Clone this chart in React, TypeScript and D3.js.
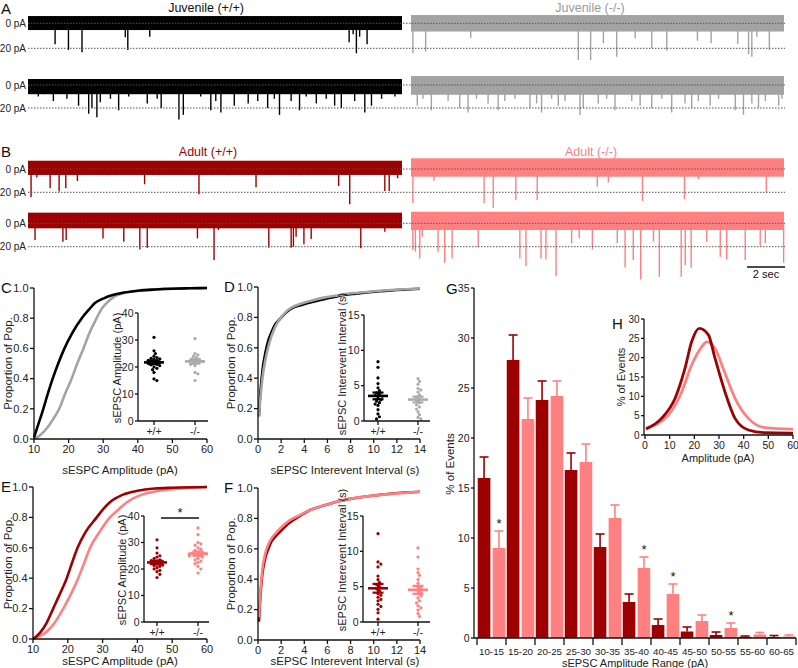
import React from 'react';
import * as d3 from 'd3';

const FONT = "'Liberation Sans', Arial, Helvetica, sans-serif";
const C_BLACK = '#000000';
const C_GRAY = '#a3a3a3';
const C_DARK = '#9c0000';
const C_PINK = '#ff8080';

// ---------- Traces (A, B) ----------
const TRACE_SECONDS = 19.6;
// events: [time (s), amplitude (pA)]
const juvWtEvents1: [number, number][] = [[1.42,16.8],[2.12,21.4],[2.83,23.2],[5.1,11.2],[5.23,21.4],[6.38,10.7],[16.83,15.2],[17.04,8.8],[17.21,24],[17.38,10.7],[17.77,16.8]];
const juvKoEvents1: [number, number][] = [[0.1,24],[0.77,22.7],[3.14,11.5],[8.79,29.4],[9.44,29.4],[10.11,16],[10.81,26.7],[11.78,12],[12.65,20],[13.44,21.9],[15.05,13.9],[15.77,16],[17.17,16.6],[17.74,24.8],[17.91,26.7],[18.17,10.7],[18.83,21.4]];
const juvWtEvents2: [number, number][] = [[0.54,10],[0.81,8],[1.33,14],[2.04,12],[2.65,18],[3.18,25],[3.35,20],[3.61,28],[3.79,15],[4.32,12],[4.75,22],[5.28,10],[6.25,16],[6.77,12],[6.98,20],[7.91,30],[8.14,26],[9.05,10],[9.58,22],[9.84,14],[10.11,24],[10.81,18],[11.54,16],[12.04,14],[12.56,20],[12.91,12],[13.18,26],[13.79,14],[14.23,22],[14.58,10],[15.11,16],[15.63,12],[16.07,18],[16.42,20],[17.12,14],[17.65,24],[18.0,18],[18.53,12],[19.23,10]];
const juvKoEvents2: [number, number][] = [[0.33,18],[0.63,12],[1.07,22],[1.95,14],[2.56,20],[3.0,24],[3.44,12],[4.05,16],[4.58,22],[4.93,14],[5.46,12],[6.25,20],[6.6,16],[6.86,24],[7.39,12],[7.74,18],[8.09,14],[8.88,26],[9.05,20],[9.84,16],[10.28,12],[10.72,22],[11.6,14],[12.04,18],[12.65,20],[13.18,12],[13.7,24],[14.4,16],[14.75,20],[15.1,14],[15.72,18],[16.16,12],[17.04,22],[17.47,26],[17.91,16],[18.26,20],[18.62,14],[19.32,18],[19.49,12]];
const adWtEvents1: [number, number][] = [[0.16,24.3],[0.46,7.4],[1.16,16.6],[1.63,19.4],[1.98,16.6],[2.59,10.3],[6.11,13.1],[8.96,21.7],[11.95,15.7],[16.28,14.6],[16.86,30.3],[18.7,18.9],[18.93,18.9],[19.37,8]];
const adKoEvents1: [number, number][] = [[0.1,29.1],[1.21,10],[3.84,29.1],[4.32,33.4],[5.51,26.6],[6.63,26.6],[9.79,15.1],[10.37,11.4],[12.16,27.4],[14.37,26],[15.1,8.9],[18.67,20]];
const adWtEvents2: [number, number][] = [[0.37,14.3],[1.83,15.7],[2.0,14.3],[3.93,12.9],[5.02,15.7],[5.86,22.3],[6.25,20.9],[8.88,12.9],[9.75,31.4],[9.98,5.7],[12.62,20.9],[13.79,20.9],[13.91,20],[14.05,11.5],[14.46,18],[14.84,13.5],[17.44,21.4],[18.7,7.2]];
const adKoEvents2: [number, number][] = [[0.1,22.9],[0.23,24.3],[0.46,30],[0.59,11.5],[1.42,24.3],[1.77,33.7],[2.16,30],[3.53,20.6],[5.72,30],[6.04,36.6],[6.83,30],[7.09,30.9],[7.62,45.2],[8.44,17.1],[8.84,12.9],[9.53,22.3],[10.84,17.1],[11.25,37.7],[11.68,31.4],[12.07,48],[12.74,15.7],[13.05,45.7],[14.2,45.7],[14.41,35.7],[14.72,38],[15.54,15.7],[16.25,28.6],[16.59,30.9],[17.56,31.4],[18.35,19.5],[18.62,17.1],[19.58,33.7]];

// ---------- Cumulative distributions (C-F) ----------
const cAmpWtX = [10, 11, 12.7, 14, 15.4, 17, 18.8, 21, 23.8, 26, 27.6, 30, 33, 36, 40, 45, 50, 55, 60];
const cAmpWtY = [0.01, 0.08, 0.2, 0.3, 0.4, 0.5, 0.6, 0.7, 0.8, 0.86, 0.9, 0.93, 0.955, 0.97, 0.982, 0.99, 0.995, 0.998, 1.0];
const cAmpKoX = [10, 12, 14, 15.5, 17.3, 19, 20.9, 22.5, 24.3, 26, 28.1, 29.5, 31, 33, 35, 38, 42, 50, 60];
const cAmpKoY = [0.0, 0.03, 0.08, 0.13, 0.2, 0.3, 0.4, 0.5, 0.6, 0.7, 0.8, 0.86, 0.9, 0.94, 0.96, 0.975, 0.985, 0.996, 1.0];
const dIntX = [0.08, 0.15, 0.26, 0.4, 0.66, 0.9, 1.18, 1.5, 1.9, 2.4, 2.9, 3.7, 4.6, 5.7, 6.9, 8.3, 9.8, 11.5, 14];
const dIntWtY = [0.15, 0.25, 0.355, 0.46, 0.575, 0.65, 0.705, 0.755, 0.79, 0.83, 0.86, 0.88, 0.90, 0.92, 0.94, 0.955, 0.967, 0.977, 0.988];
const dIntKoY = [0.15, 0.22, 0.31, 0.41, 0.53, 0.61, 0.68, 0.74, 0.79, 0.835, 0.865, 0.89, 0.91, 0.93, 0.945, 0.96, 0.97, 0.98, 0.99];
const eAmpWtX = [10, 12, 14, 15.8, 17.8, 19.7, 21.2, 22.8, 25, 28.3, 30, 32.1, 35.9, 40, 45, 50, 60];
const eAmpWtY = [0.0, 0.04, 0.11, 0.2, 0.3, 0.4, 0.5, 0.6, 0.7, 0.8, 0.85, 0.9, 0.95, 0.975, 0.99, 0.995, 1.0];
const eAmpKoX = [10, 12, 14, 16, 18.7, 21, 23, 24.7, 26.4, 29, 32.1, 34.5, 37, 41.3, 45, 50, 55, 60];
const eAmpKoY = [0.0, 0.02, 0.05, 0.1, 0.2, 0.3, 0.4, 0.5, 0.6, 0.7, 0.8, 0.85, 0.9, 0.95, 0.97, 0.985, 0.995, 1.0];
const fIntX = [0.08, 0.2, 0.37, 0.6, 0.9, 1.18, 1.5, 2.0, 2.7, 3.7, 4.5, 5.5, 6.8, 8.1, 10, 12.7, 14];
const fIntWtY = [0.12, 0.28, 0.43, 0.53, 0.6, 0.65, 0.68, 0.72, 0.77, 0.82, 0.855, 0.88, 0.91, 0.93, 0.95, 0.97, 0.975];
const fIntKoY = [0.15, 0.31, 0.46, 0.56, 0.63, 0.67, 0.70, 0.74, 0.785, 0.825, 0.855, 0.88, 0.91, 0.93, 0.95, 0.968, 0.975];

// ---------- Per-cell values (insets) ----------
const groups = ['+/+', '-/-'];
const juvWtAmp = [31, 26, 25, 24, 23.5, 23.2, 23, 22.8, 22.5, 22.3, 22, 21.8, 21.5, 21.3, 21, 20.8, 20.5, 20, 19.5, 19, 18, 15.6, 15];
const juvKoAmp = [30.5, 25, 24.5, 24, 23.5, 23, 22.8, 22.5, 22.2, 22, 21.8, 21.5, 21, 20.5, 18, 17.5, 15];
const juvWtInt = [8.4, 7.6, 6.1, 5.3, 4.7, 4.3, 4.0, 3.8, 3.6, 3.5, 3.2, 3.0, 2.8, 2.6, 2.4, 2.2, 1.6, 1.0, 0.6, 0.3];
const juvKoInt = [6.0, 5.6, 5.2, 4.6, 4.4, 4.1, 3.7, 3.4, 3.1, 2.9, 2.6, 2.3, 2.0, 1.7, 1.3, 0.9, 0.5, 0.3];
const adWtAmp = [31, 28, 26, 25, 24.5, 24, 23.5, 23.2, 23, 22.8, 22.5, 22.3, 22, 21.8, 21.5, 21.2, 21, 20.5, 20, 19.5, 19, 18, 16.8];
const adKoAmp = [35.5, 33, 30, 29.5, 29, 28, 27.5, 27, 26.5, 26.2, 26, 25.8, 25.5, 25.2, 25, 24.5, 24, 23.5, 23, 22.5, 22, 21, 20, 18.5];
const adWtInt = [12.5, 8.5, 8.2, 7.8, 6.5, 6.0, 5.6, 5.3, 5.0, 4.7, 4.4, 4.0, 3.8, 3.5, 3.2, 3.0, 2.5, 2.2, 1.8, 1.3, 0.4];
const adKoInt = [10.5, 9.2, 7.5, 7.0, 6.6, 6.0, 5.5, 5.0, 4.8, 4.5, 4.2, 4.0, 3.7, 3.4, 3.0, 2.7, 2.3, 2.0, 1.7, 1.2, 0.8];

// ---------- Amplitude histogram (G) ----------
const rangeCats = ['10-15', '15-20', '20-25', '25-30', '30-35', '35-40', '40-45', '45-50', '50-55', '55-60', '60-65'];
const adWtPct = [16.0, 27.8, 23.8, 16.8, 9.1, 3.6, 1.3, 0.65, 0.3, 0.12, 0.1];
const adWtErr = [2.1, 2.5, 1.9, 1.7, 1.3, 0.8, 0.6, 0.45, 0.3, 0.08, 0.15];
const adKoPct = [9.0, 21.9, 24.2, 17.6, 12.0, 7.0, 4.4, 1.7, 1.0, 0.35, 0.15];
const adKoErr = [1.7, 2.1, 1.5, 1.8, 1.3, 1.1, 1.0, 0.6, 0.5, 0.2, 0.15];
const sigCats = ['10-15', '35-40', '40-45', '50-55'];

// ---------- Gaussian fits (H) ----------
const hWtX = [0.4, 6.7, 12.2, 16.2, 18.9, 22, 25.7, 28.4, 32.4, 36.5, 41.9, 48.6, 60];
const hWtY = [1.55, 4.3, 9.5, 17.2, 24.1, 27.6, 25.9, 19.8, 11.2, 4.3, 1.3, 0.6, 0.5];
const hKoX = [0.4, 9.5, 14.9, 18.9, 23, 25, 28.4, 31.7, 36.5, 41.9, 48.6, 60];
const hKoY = [1.8, 5.2, 11.2, 18.1, 22.8, 24.1, 22.4, 17.2, 9.5, 4.3, 1.9, 1.5];

// ================= components =================
const AX = '#111';

function YAxis({ scale, x, ticks, fmt, fs = 11, len = 4 }: any) {
  const [r0, r1] = scale.range();
  return (
    <g>
      <line x1={x} x2={x} y1={r0} y2={r1} stroke={AX} strokeWidth={1.3} />
      {ticks.map((t: number) => (
        <g key={t}>
          <line x1={x - len} x2={x} y1={scale(t)} y2={scale(t)} stroke={AX} strokeWidth={1.3} />
          <text x={x - len - 1.5} y={scale(t)} dy="0.35em" textAnchor="end" fontSize={fs} fill="#222">{fmt(t)}</text>
        </g>
      ))}
    </g>
  );
}

function XAxis({ scale, y, ticks, fmt, fs = 11, len = 4, x0, x1 }: any) {
  const [r0, r1] = scale.range();
  return (
    <g>
      <line x1={x0 ?? r0} x2={x1 ?? r1} y1={y} y2={y} stroke={AX} strokeWidth={1.3} />
      {ticks.map((t: any) => (
        <g key={String(t)}>
          <line x1={scale(t)} x2={scale(t)} y1={y} y2={y + len} stroke={AX} strokeWidth={1.3} />
          <text x={scale(t)} y={y + len + 2} dy="0.75em" textAnchor="middle" fontSize={fs} fill="#222">{fmt(t)}</text>
        </g>
      ))}
    </g>
  );
}

function Trace({ x0, x1, y0, y20, color, events, up, down }: any) {
  const xs = d3.scaleLinear().domain([0, TRACE_SECONDS]).range([x0, x1]);
  const ys = d3.scaleLinear().domain([0, 20]).range([y0, y20]);
  return (
    <g>
      <rect x={x0} width={x1 - x0} y={ys(-up)} height={ys(down) - ys(-up)} fill={color} />
      {events.map(([t, a]: [number, number], i: number) => (
        <line key={i} x1={xs(t)} x2={xs(t)} y1={y0} y2={ys(a)} stroke={color} strokeWidth={1.4} />
      ))}
    </g>
  );
}

function TraceRow({ y0, y20, left, right }: any) {
  return (
    <g>
      <Trace x0={28} x1={402} y0={y0} y20={y20} {...left} />
      <Trace x0={411} x1={784} y0={y0} y20={y20} {...right} />
      <line x1={28} x2={785} y1={y0} y2={y0} stroke="#555" strokeWidth={1} strokeDasharray="1.5,1.5" />
      <line x1={28} x2={785} y1={y20} y2={y20} stroke="#555" strokeWidth={1} strokeDasharray="1.5,1.5" />
      <text x={26} y={y0} dy="0.35em" textAnchor="end" fontSize={10} fill="#222">0 pA</text>
      <text x={26} y={y20} dy="0.35em" textAnchor="end" fontSize={10} fill="#222">20 pA</text>
    </g>
  );
}

function CdfPanel({ xDomain, xRange, yRange, xTicks, xTitle, xTitleX, xTitleY, series, yTitleX, label, labelX }: any) {
  const xs = d3.scaleLinear().domain(xDomain).range(xRange);
  const ys = d3.scaleLinear().domain([0, 1]).range(yRange);
  const line = d3.line<[number, number]>().x(d => xs(d[0])).y(d => ys(d[1])).curve(d3.curveMonotoneX);
  return (
    <g>
      {series.map((s: any, i: number) => (
        <path key={i} d={line(s.x.map((v: number, j: number) => [v, s.y[j]]) as any) || ''} fill="none" stroke={s.color} strokeWidth={2.6} />
      ))}
      <YAxis scale={ys} x={xRange[0]} ticks={[0, 0.2, 0.4, 0.6, 0.8, 1.0]} fmt={d3.format('.1f')} />
      <XAxis scale={xs} y={yRange[0]} ticks={xTicks} fmt={(t: number) => String(t)} />
      <text x={xTitleX} y={xTitleY} textAnchor="middle" fontSize={11.5} fill="#222">{xTitle}</text>
      <text transform={`translate(${yTitleX},${(yRange[0] + yRange[1]) / 2}) rotate(-90)`} textAnchor="middle" fontSize={11.5} fill="#222">Proportion of Pop.</text>
      <text x={labelX} y={yRange[1] + 5} fontSize={15} fill="#111">{label}</text>
    </g>
  );
}

function swarm(values: number[], ys: (v: number) => number, cx: number, r: number) {
  const pts = values.map(v => ({ v, y: ys(v), x: cx })).sort((a, b) => a.y - b.y);
  const placed: { x: number; y: number }[] = [];
  const minD = 2 * r * 0.95;
  const step = r * 0.9;
  for (const p of pts) {
    for (let k = 0; k < 40; k++) {
      const off = k === 0 ? 0 : (k % 2 === 1 ? 1 : -1) * Math.ceil(k / 2) * step;
      const x = cx + off;
      if (placed.every(q => (q.x - x) ** 2 + (q.y - p.y) ** 2 >= minD * minD)) {
        p.x = x;
        break;
      }
    }
    placed.push({ x: p.x, y: p.y });
  }
  return pts;
}

function Inset({ yAxisX, xEnd, yRange, yDomain, yTicks, cats, data, colors, yTitle, yTitleX, yTitleY, sig }: any) {
  const ys = d3.scaleLinear().domain(yDomain).range(yRange);
  const xs = d3.scalePoint<string>().domain(groups).range(cats);
  return (
    <g>
      {data.map((vals: number[], gi: number) => {
        const cx = xs(groups[gi]) as number;
        const pts = swarm(vals, ys, cx, 1.6);
        const mean = d3.mean(vals) as number;
        const sem = (d3.deviation(vals) as number) / Math.sqrt(vals.length);
        return (
          <g key={gi}>
            {pts.map((p, i) => <circle key={i} cx={p.x} cy={p.y} r={1.6} fill={colors[gi]} />)}
            <line x1={cx - 10} x2={cx + 10} y1={ys(mean)} y2={ys(mean)} stroke={colors[gi]} strokeWidth={2.6} />
            <line x1={cx} x2={cx} y1={ys(mean - sem)} y2={ys(mean + sem)} stroke={colors[gi]} strokeWidth={2.2} />
            <line x1={cx - 5.5} x2={cx + 5.5} y1={ys(mean + sem)} y2={ys(mean + sem)} stroke={colors[gi]} strokeWidth={2.2} />
            <line x1={cx - 5.5} x2={cx + 5.5} y1={ys(mean - sem)} y2={ys(mean - sem)} stroke={colors[gi]} strokeWidth={2.2} />
          </g>
        );
      })}
      <YAxis scale={ys} x={yAxisX} ticks={yTicks} fmt={(t: number) => String(t)} fs={10.5} len={3} />
      <XAxis scale={xs} y={yRange[0]} ticks={groups} fmt={(t: string) => t} fs={10.5} x0={yAxisX} x1={xEnd} />
      <text transform={`translate(${yTitleX},${yTitleY}) rotate(-90)`} textAnchor="middle" fontSize={11} fill="#222">{yTitle}</text>
      {sig && (
        <g>
          <line x1={sig[0]} x2={sig[1]} y1={sig[2]} y2={sig[2]} stroke="#111" strokeWidth={1.3} />
          <text x={(sig[0] + sig[1]) / 2} y={sig[2] - 1} textAnchor="middle" fontSize={13} fill="#111">*</text>
        </g>
      )}
    </g>
  );
}

function PanelG() {
  const ys = d3.scaleLinear().domain([0, 35]).range([638, 288]);
  const xb = d3.scaleBand<string>().domain(rangeCats).range([477, 796]).paddingInner(0).paddingOuter(0);
  const inner = d3.scaleBand<string>().domain(['wt', 'ko']).range([0, xb.bandwidth()]).paddingInner(0.15).paddingOuter(0.05);
  const bw = inner.bandwidth();
  const series = [
    { key: 'wt', vals: adWtPct, errs: adWtErr, color: C_DARK },
    { key: 'ko', vals: adKoPct, errs: adKoErr, color: C_PINK },
  ];
  const boundaries = rangeCats.map(c => xb(c) as number).concat([796]);
  return (
    <g>
      {series.map(s => rangeCats.map((c, i) => {
        const x = (xb(c) as number) + (inner(s.key) as number);
        const cx = x + bw / 2;
        const top = ys(s.vals[i] + s.errs[i]);
        return (
          <g key={s.key + c}>
            <line x1={cx} x2={cx} y1={ys(s.vals[i])} y2={top} stroke={s.color} strokeWidth={1.6} />
            <line x1={cx - 4.5} x2={cx + 4.5} y1={top} y2={top} stroke={s.color} strokeWidth={1.6} />
            <rect x={x} y={ys(s.vals[i])} width={bw} height={638 - ys(s.vals[i])} fill={s.color} />
            {s.key === 'ko' && sigCats.includes(c) && (
              <text x={cx} y={top - 3} textAnchor="middle" fontSize={13} fill="#111">*</text>
            )}
          </g>
        );
      }))}
      <YAxis scale={ys} x={474} ticks={[0, 5, 10, 15, 20, 25, 30, 35]} fmt={(t: number) => String(t)} fs={10.5} len={3} />
      <line x1={474} x2={796} y1={638} y2={638} stroke={AX} strokeWidth={1.3} />
      {boundaries.map((b, i) => <line key={i} x1={b} x2={b} y1={638} y2={645} stroke={AX} strokeWidth={1.3} />)}
      {rangeCats.map(c => (
        <text key={c} x={(xb(c) as number) + xb.bandwidth() / 2} y={654.5} textAnchor="middle" fontSize={9.8} fill="#222">{c}</text>
      ))}
      <text x={635} y={666.5} textAnchor="middle" fontSize={11} fill="#222">sEPSC Amplitude Range (pA)</text>
      <text transform="translate(454,464) rotate(-90)" textAnchor="middle" fontSize={11.5} fill="#222">% of Events</text>
      <text x={446} y={294} fontSize={15} fill="#111">G</text>
    </g>
  );
}

function PanelH() {
  const xs = d3.scaleLinear().domain([0, 60]).range([645, 793]);
  const ys = d3.scaleLinear().domain([0, 30]).range([435, 319]);
  const line = d3.line<[number, number]>().x(d => xs(d[0])).y(d => ys(d[1])).curve(d3.curveMonotoneX);
  const wt = hWtX.map((v, i) => [v, hWtY[i]] as [number, number]);
  const ko = hKoX.map((v, i) => [v, hKoY[i]] as [number, number]);
  return (
    <g>
      <path d={line(ko) || ''} fill="none" stroke={C_PINK} strokeWidth={2.8} />
      <path d={line(wt) || ''} fill="none" stroke={C_DARK} strokeWidth={2.8} />
      <YAxis scale={ys} x={644} ticks={[0, 5, 10, 15, 20, 25, 30]} fmt={(t: number) => String(t)} fs={10} len={3} />
      <XAxis scale={xs} y={435} ticks={[0, 10, 20, 30, 40, 50, 60]} fmt={(t: number) => String(t)} fs={10.5} x0={644} />
      <text x={718} y={462} textAnchor="middle" fontSize={11} fill="#222">Amplitude (pA)</text>
      <text transform="translate(625,377) rotate(-90)" textAnchor="middle" fontSize={11} fill="#222">% of Events</text>
      <text x={612} y={329} fontSize={15} fill="#111">H</text>
    </g>
  );
}

export default function App() {
  return (
    <svg width={798} height={668} viewBox="0 0 798 668" style={{ position: 'absolute', left: 0, top: 0, background: '#fff' }} fontFamily={FONT}>
      <rect width={798} height={668} fill="#fff" />
      {/* A */}
      <text x={1} y={14} fontSize={15} fill="#111">A</text>
      <text x={206} y={12} textAnchor="middle" fontSize={12.5} fill="#111">Juvenile (+/+)</text>
      <text x={590} y={12} textAnchor="middle" fontSize={12.5} fill="#999">Juvenile (-/-)</text>
      <TraceRow y0={23.3} y20={48.3}
        left={{ color: C_BLACK, events: juvWtEvents1, up: 5.8, down: 5.4 }}
        right={{ color: C_GRAY, events: juvKoEvents1, up: 6.6, down: 6.6 }} />
      <TraceRow y0={85} y20={108}
        left={{ color: C_BLACK, events: juvWtEvents2, up: 5.2, down: 8 }}
        right={{ color: C_GRAY, events: juvKoEvents2, up: 7.8, down: 8.5 }} />
      {/* B */}
      <text x={1} y={157} fontSize={15} fill="#111">B</text>
      <text x={208} y={156} textAnchor="middle" fontSize={12.5} fill={C_DARK}>Adult (+/+)</text>
      <text x={591} y={156} textAnchor="middle" fontSize={12.5} fill={C_PINK}>Adult (-/-)</text>
      <TraceRow y0={169} y20={192.3}
        left={{ color: C_DARK, events: adWtEvents1, up: 7.1, down: 5.1 }}
        right={{ color: C_PINK, events: adKoEvents1, up: 9.2, down: 6.6 }} />
      <TraceRow y0={223.3} y20={246.7}
        left={{ color: C_DARK, events: adWtEvents2, up: 9.1, down: 4.3 }}
        right={{ color: C_PINK, events: adKoEvents2, up: 9.9, down: 5.7 }} />
      <line x1={747} x2={785} y1={267} y2={267} stroke="#111" strokeWidth={1.5} />
      <text x={766} y={278} textAnchor="middle" fontSize={11} fill="#111">2 sec</text>

      {/* C */}
      <CdfPanel xDomain={[10, 60]} xRange={[34, 207]} yRange={[439, 288]} xTicks={[10, 20, 30, 40, 50, 60]}
        xTitle="sESPC Amplitude (pA)" xTitleX={120} xTitleY={474} yTitleX={12} label="C" labelX={1}
        series={[{ x: cAmpKoX, y: cAmpKoY, color: C_GRAY }, { x: cAmpWtX, y: cAmpWtY, color: C_BLACK }]} />
      <Inset yAxisX={138} xEnd={208} yRange={[421, 313]} yDomain={[0, 40]} yTicks={[0, 10, 20, 30, 40]}
        cats={[154, 195]} data={[juvWtAmp, juvKoAmp]} colors={[C_BLACK, '#ababab']}
        yTitle="sEPSC Amplitude (pA)" yTitleX={121} yTitleY={368} />
      {/* D */}
      <CdfPanel xDomain={[0, 14]} xRange={[258, 420]} yRange={[439, 287]} xTicks={[0, 2, 4, 6, 8, 10, 12, 14]}
        xTitle="sEPSC Interevent Interval (s)" xTitleX={345} xTitleY={474} yTitleX={235} label="D" labelX={224}
        series={[{ x: dIntX, y: dIntWtY, color: C_BLACK }, { x: dIntX, y: dIntKoY, color: C_GRAY }]} />
      <Inset yAxisX={364} xEnd={430} yRange={[421, 315]} yDomain={[0, 15]} yTicks={[0, 5, 10, 15]}
        cats={[378, 418]} data={[juvWtInt, juvKoInt]} colors={[C_BLACK, '#ababab']}
        yTitle="sEPSC Interevent Interval (s)" yTitleX={346} yTitleY={364} />
      {/* E */}
      <CdfPanel xDomain={[10, 60]} xRange={[33, 207]} yRange={[639, 487]} xTicks={[10, 20, 30, 40, 50, 60]}
        xTitle="sESPC Amplitude (pA)" xTitleX={120} xTitleY={665} yTitleX={12} label="E" labelX={1}
        series={[{ x: eAmpKoX, y: eAmpKoY, color: C_PINK }, { x: eAmpWtX, y: eAmpWtY, color: C_DARK }]} />
      <Inset yAxisX={144} xEnd={209} yRange={[622, 516]} yDomain={[0, 40]} yTicks={[0, 10, 20, 30, 40]}
        cats={[157, 198]} data={[adWtAmp, adKoAmp]} colors={[C_DARK, C_PINK]}
        yTitle="sEPSC Amplitude (pA)" yTitleX={126} yTitleY={570} sig={[161, 199, 518]} />
      {/* F */}
      <CdfPanel xDomain={[0, 14]} xRange={[258, 420]} yRange={[640, 488]} xTicks={[0, 2, 4, 6, 8, 10, 12, 14]}
        xTitle="sEPSC Interevent Interval (s)" xTitleX={345} xTitleY={665} yTitleX={235} label="F" labelX={224}
        series={[{ x: fIntX, y: fIntWtY, color: C_DARK }, { x: fIntX, y: fIntKoY, color: C_PINK }]} />
      <Inset yAxisX={363} xEnd={430} yRange={[622, 516]} yDomain={[0, 15]} yTicks={[0, 5, 10, 15]}
        cats={[378, 418]} data={[adWtInt, adKoInt]} colors={[C_DARK, C_PINK]}
        yTitle="sEPSC Interevent Interval (s)" yTitleX={346} yTitleY={560} />
      <PanelG />
      <PanelH />
    </svg>
  );
}
